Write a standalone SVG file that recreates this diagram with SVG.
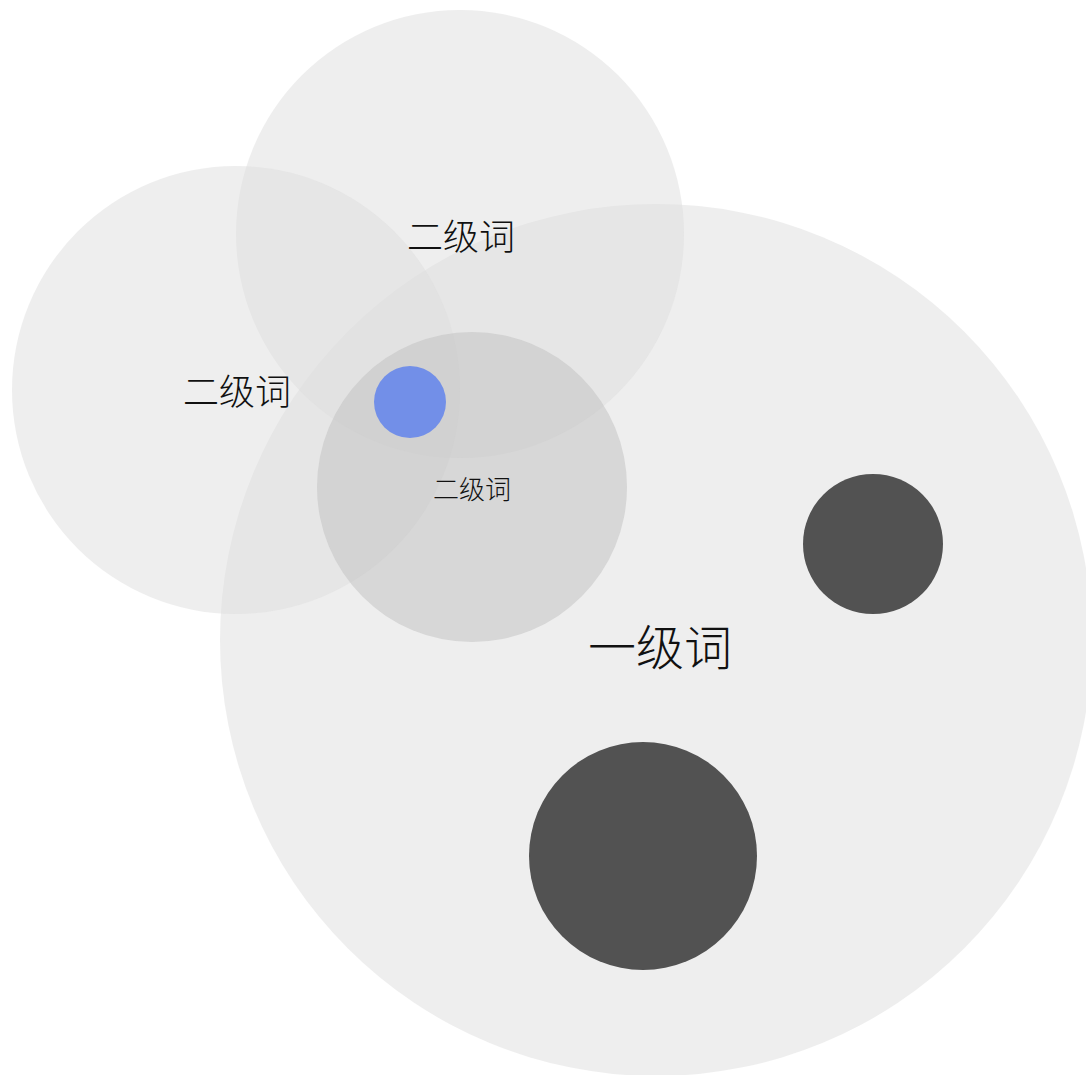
<svg xmlns="http://www.w3.org/2000/svg" width="1086" height="1075" viewBox="0 0 1086 1075">
<style>
.c{fill:#dddddd;fill-opacity:0.5}
.m{fill:#c0c0c0;fill-opacity:0.5}
.d{fill:#525252}
.b{fill:#728fe8}
text{font-family:"Noto Sans CJK SC","Liberation Sans",sans-serif;font-weight:300;fill:#111;text-anchor:middle;dominant-baseline:central}
</style>
<rect width="1086" height="1075" fill="#ffffff"/>
<g id="level1"><circle class="c" cx="656" cy="640" r="436"/></g>
<g id="level2-top"><circle class="c" cx="460" cy="234" r="224"/></g>
<g id="level2-left"><circle class="c" cx="236" cy="390" r="224"/></g>
<g id="level2-mid"><circle class="m" cx="472" cy="487" r="155"/></g>
<g id="dot-blue"><circle class="b" cx="410" cy="402" r="36"/></g>
<g id="dot-right"><circle class="d" cx="873" cy="544" r="70"/></g>
<g id="dot-bottom"><circle class="d" cx="643" cy="856" r="114"/></g>
<g id="labels">
<text x="461" y="234" font-size="36">二级词</text>
<text x="237" y="389" font-size="36">二级词</text>
<text x="472" y="487" font-size="26">二级词</text>
<text x="660" y="644" font-size="48">一级词</text>
</g>
<g id="connectors"></g>
</svg>
